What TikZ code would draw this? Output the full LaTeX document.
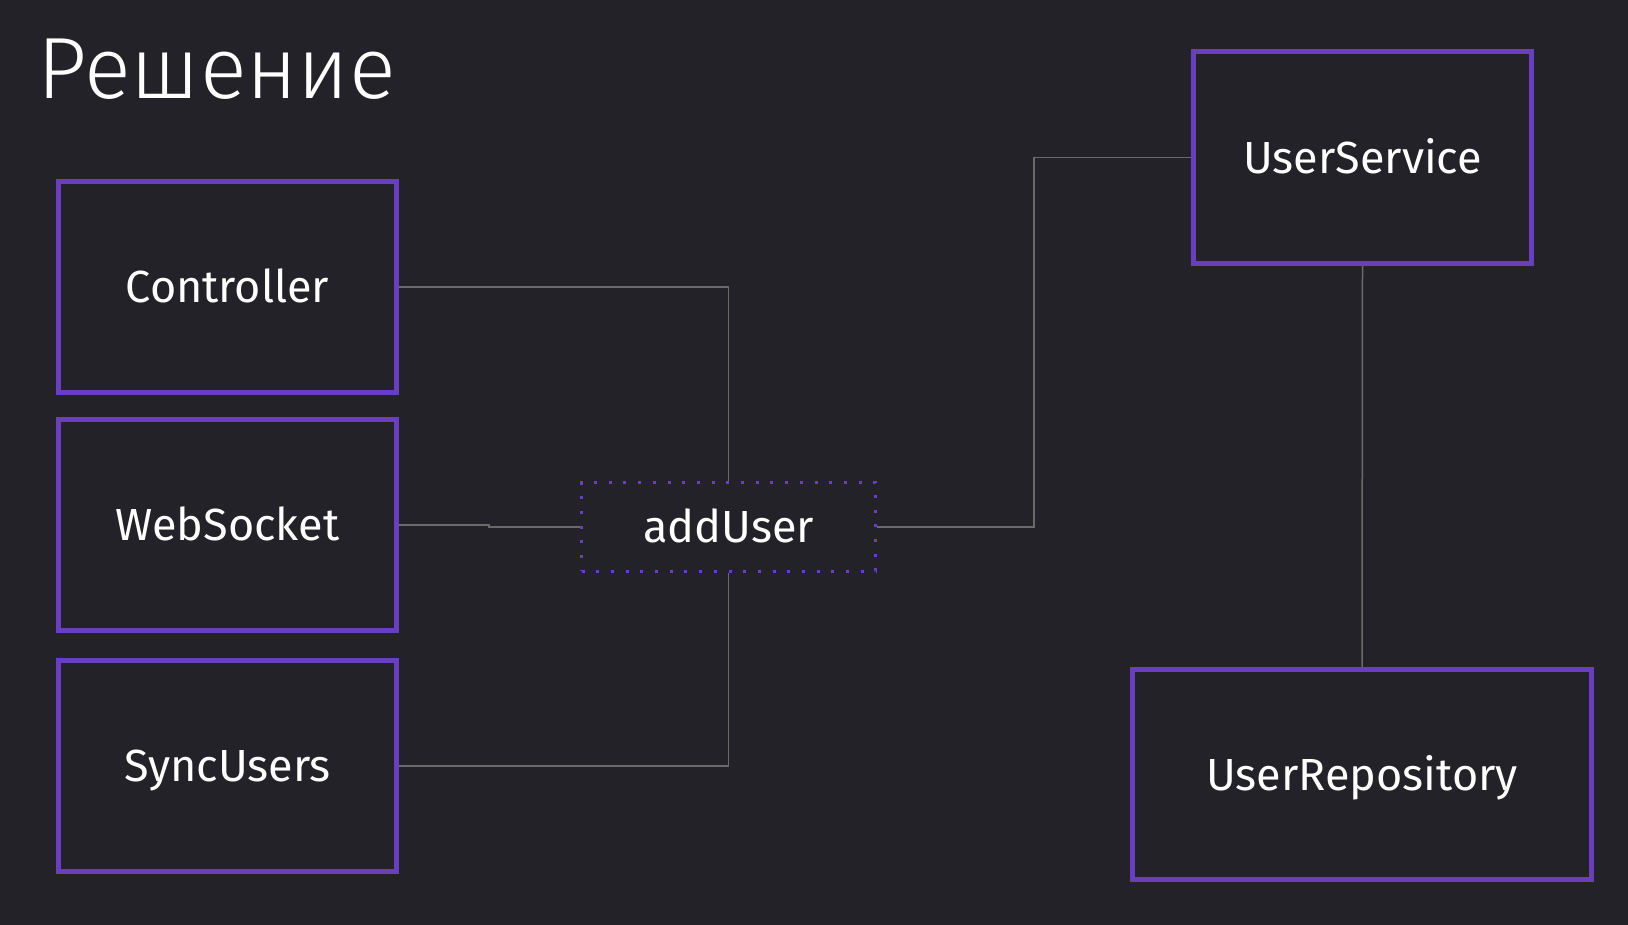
\documentclass[tikz,border=0pt]{standalone}
\usepackage{fontspec}
\setmainfont{Fira Sans}
\newfontfamily\titlefont{Fira Sans Light}
\definecolor{bg}{HTML}{232228}
\definecolor{violet}{HTML}{6A3EC2}
\definecolor{wiregray}{HTML}{6A6A6A}
\begin{document}
\begin{tikzpicture}[x=1pt, y=1pt,
    box/.style={draw=violet, line width=5pt, text=white, font=\fontsize{45}{54}\selectfont,
        text height=32pt, text depth=0pt,
        minimum width=338pt, minimum height=211pt, inner sep=0pt},
    method/.style={draw=violet, line width=3pt, dash pattern=on 3pt off 11.7pt, text=white,
        font=\fontsize{45}{54}\selectfont, text height=32pt, text depth=0pt,
        minimum width=294pt, minimum height=89pt, inner sep=0pt},
    wire/.style={draw=wiregray, line width=1.5pt}]
    \fill[bg] (0, 0) rectangle (1628, 925);
    \node[anchor=base west, inner sep=0pt, text=white, font=\titlefont\fontsize{87}{100}\selectfont] (title) at (37, 826) {Решение};
    % callers on the left
    \node[box] (ctrl) at (227.5, 638) {Controller};
    \node[box] (ws) at (227.5, 400) {WebSocket};
    \node[box] (sync) at (227.5, 159) {SyncUsers};
    % the shared method
    \node[method] (add) at (728.5, 398) {addUser};
    % service and repository on the right
    \node[box, minimum height=212pt] (svc) at (1362.5, 767.5) {UserService};
    \node[box, minimum width=459pt, minimum height=210pt] (repo) at (1362, 150.5) {UserRepository};
    \draw[wire] (ctrl.east) -| (add.north);
    \draw[wire] (ws.east) -- ++(90, 0) |- (add.west);
    \draw[wire] (sync.east) -| (add.south);
    \draw[wire] (add.east) -- ++(157, 0) |- (svc.west);
    \draw[wire] (svc.south) -- (repo.north);
\end{tikzpicture}
\end{document}
